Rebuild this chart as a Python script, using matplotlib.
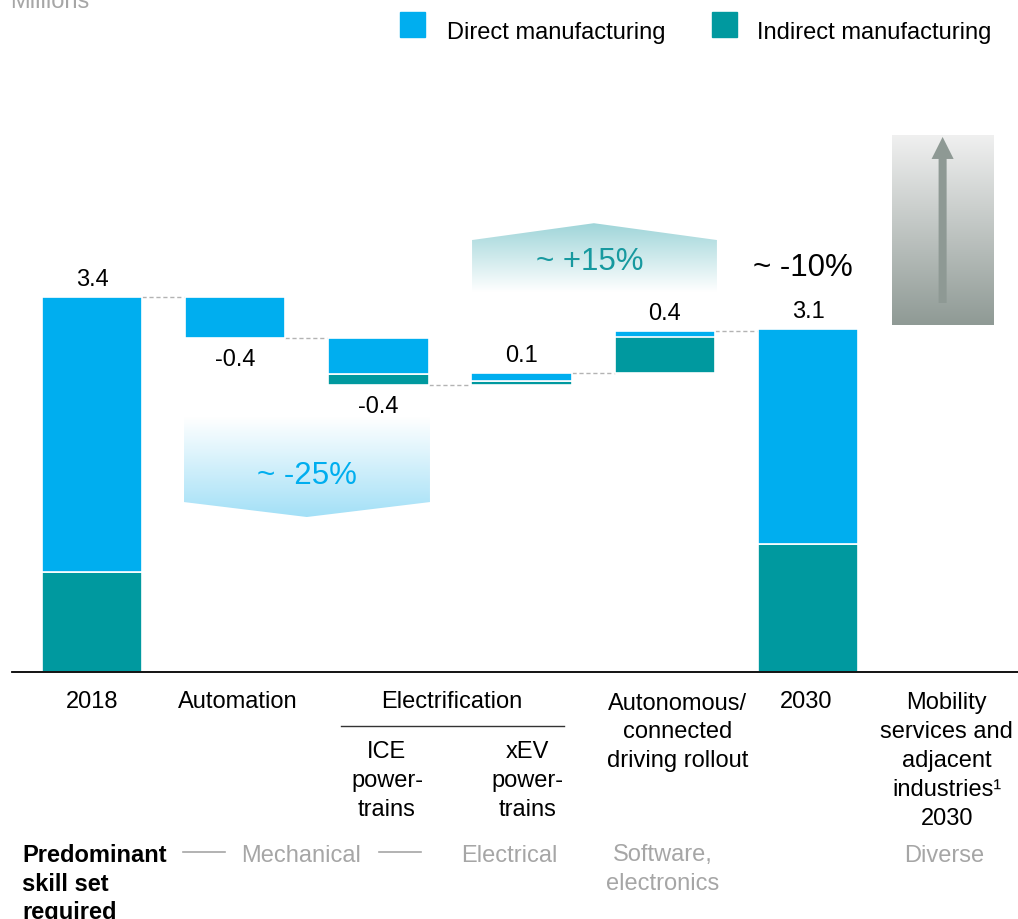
import numpy as np
import matplotlib
matplotlib.use("Agg")
import matplotlib.pyplot as plt
from matplotlib.colors import LinearSegmentedColormap
from matplotlib.patches import Polygon, Rectangle
from matplotlib.transforms import blended_transform_factory

plt.rcParams["font.family"] = ["Liberation Sans", "DejaVu Sans"]

BLUE = "#00AEEF"
TEAL = "#00999F"
GREY_TEXT = "#a6a6a6"
DASH = "#b3b3b3"
TEXT = "#000000"

# waterfall data, millions of jobs
STEPS = ["2018", "Automation", "ICE powertrains", "xEV powertrains",
         "Autonomous/connected driving rollout", "2030"]
KIND = ["total", "delta", "delta", "delta", "delta", "total"]
DIRECT = [2.50, -0.37, -0.33, 0.07, 0.05, 1.96]
INDIRECT = [0.91, 0.00, -0.10, 0.04, 0.33, 1.16]
VALUE_LABELS = ["3.4", "-0.4", "-0.4", "0.1", "0.4", "3.1"]

W, H = 1018, 919
BASE_PX = 672       # pixel row of the zero line
PX_PER_UNIT = 110.0
BAR_W = 0.70


def fx(p):
    return p / W


def fy(p):
    return 1 - p / H


def gradient_poly(ax, verts, top_color, bottom_color, z=1):
    poly = Polygon(verts, closed=True, facecolor="none", edgecolor="none")
    ax.add_patch(poly)
    xs = [v[0] for v in verts]
    ys = [v[1] for v in verts]
    cmap = LinearSegmentedColormap.from_list("g", [bottom_color, top_color])
    grad = np.linspace(0, 1, 256).reshape(-1, 1)
    im = ax.imshow(grad, extent=[min(xs), max(xs), min(ys), max(ys)],
                   origin="lower", cmap=cmap, aspect="auto", zorder=z,
                   interpolation="bilinear")
    im.set_clip_path(poly)


fig = plt.figure(figsize=(W / 100, H / 100), dpi=100)
ax = fig.add_axes([0, 1 - BASE_PX / H, 1, BASE_PX / H])
ax.axis("off")
ytop = BASE_PX / PX_PER_UNIT
xlim = (-92 / 143.2, (W - 92) / 143.2)

# bars
level = 0.0
ends = []
for i, kind in enumerate(KIND):
    d, ind = DIRECT[i], INDIRECT[i]
    if kind == "total":
        low = 0.0
        top = ind + d
        new_level = top
    else:
        start = level
        new_level = level + d + ind
        low = min(start, new_level)
        top = max(start, new_level)
    ax.bar(i, abs(ind), bottom=low, width=BAR_W, color=TEAL,
           edgecolor="white", linewidth=1.2, zorder=3)
    ax.bar(i, abs(d), bottom=low + abs(ind), width=BAR_W, color=BLUE,
           edgecolor="white", linewidth=1.2, zorder=3)
    if kind == "delta" and new_level < level:
        ax.annotate(VALUE_LABELS[i], (i, low), xytext=(0, -16.2),
                    textcoords="offset points", ha="center", va="center",
                    fontsize=17, color=TEXT)
    else:
        ax.annotate(VALUE_LABELS[i], (i, top), xytext=(0, 11.9),
                    textcoords="offset points", ha="center", va="center",
                    fontsize=17, color=TEXT)
    level = new_level
    ends.append(level)

# dashed connectors
for i in range(len(KIND) - 1):
    ax.plot([i + BAR_W / 2, i + 1 - BAR_W / 2], [ends[i], ends[i]],
            color=DASH, lw=1.0, ls=(0, (3, 2)), zorder=2)

ax.axhline(0, xmin=12 / W, xmax=1, color="black", lw=1.3, zorder=4,
           clip_on=False)

# chevrons
gradient_poly(ax, [(0.642, 2.31), (2.36, 2.31), (2.36, 1.545), (1.50, 1.409),
                   (0.642, 1.545)], "#ffffff", "#a3e0f7")
ax.text(1.50, 1.78, "~ -25%", ha="center", va="center", fontsize=22.5,
        color=BLUE)

gradient_poly(ax, [(2.654, 3.455), (4.364, 3.455), (4.364, 3.927),
                   (3.505, 4.08), (2.654, 3.927)], "#9fd5d9", "#ffffff")
ax.text(3.474, 3.727, "~ +15%", ha="center", va="center", fontsize=22.5,
        color="#17999f")

ax.text(4.965, 3.673, "~ -10%", ha="center", va="center", fontsize=22.5,
        color=TEXT)

# grey box with arrow
gradient_poly(ax, [(5.587, 3.155), (6.30, 3.155), (6.30, 4.88), (5.587, 4.88)],
              "#f0f0f0", "#8f9a95")
ax.arrow(5.94, 3.355, 0, 1.509, width=0.056, head_width=0.154,
         head_length=0.2, length_includes_head=True, color="#8e9994",
         zorder=3, linewidth=0)

ax.set_xlim(*xlim)
ax.set_ylim(0, ytop)

# category labels below the axis
tr = blended_transform_factory(ax.transData, fig.transFigure)
LS = 1.40


def label(x, top_px, s, color=TEXT, **kw):
    ax.text(x, fy(top_px), s, transform=tr, ha="center", va="top",
            fontsize=17, color=color, linespacing=LS, **kw)


label(0.0, 690.5, "2018")
label(1.02, 691.5, "Automation")
label(2.51, 691.5, "Electrification")
ax.plot([(341 - 92) / 143.2, (564 - 92) / 143.2], [fy(726), fy(726)],
        transform=tr, color="#333333", lw=1.0, clip_on=False)
label(2.06, 741.5, "ICE\npower-\ntrains")
label(3.04, 741.5, "xEV\npower-\ntrains")
label(4.09, 692.5, "Autonomous/\nconnected\ndriving rollout")
label(4.99, 690.5, "2030")
label(5.97, 692.5, "Mobility\nservices and\nadjacent\nindustries\u00b9\n2030")

# skill set row
fig.text(fx(22), fy(844.5), "Predominant\nskill set\nrequired", ha="left",
         va="top", fontsize=17, fontweight="bold", color=TEXT,
         linespacing=1.30)
for x0, x1 in [(183, 225), (379, 421)]:
    fig.add_artist(plt.Line2D([fx(x0), fx(x1)], [fy(852), fy(852)],
                              color=GREY_TEXT, lw=1.2))
label((301 - 92) / 143.2, 844.5, "Mechanical", color=GREY_TEXT)
label((509 - 92) / 143.2, 844.5, "Electrical", color=GREY_TEXT)
label((663 - 92) / 143.2, 844.5, "Software,\nelectronics", color=GREY_TEXT)
label(5.95, 844.5, "Diverse", color=GREY_TEXT)

# legend
fig.add_artist(Rectangle((fx(400), fy(37)), fx(25), 25 / H, color=BLUE,
                         transform=fig.transFigure))
fig.text(fx(447), fy(39.5), "Direct manufacturing", ha="left",
         va="baseline", fontsize=17, color=TEXT)
fig.add_artist(Rectangle((fx(712), fy(37)), fx(25), 25 / H, color=TEAL,
                         transform=fig.transFigure))
fig.text(fx(757), fy(39.5), "Indirect manufacturing", ha="left",
         va="baseline", fontsize=17, color=TEXT)

fig.text(fx(10), fy(8), "Millions", ha="left", va="baseline", fontsize=17,
         color=GREY_TEXT)

fig.savefig("out.png", dpi=100)
